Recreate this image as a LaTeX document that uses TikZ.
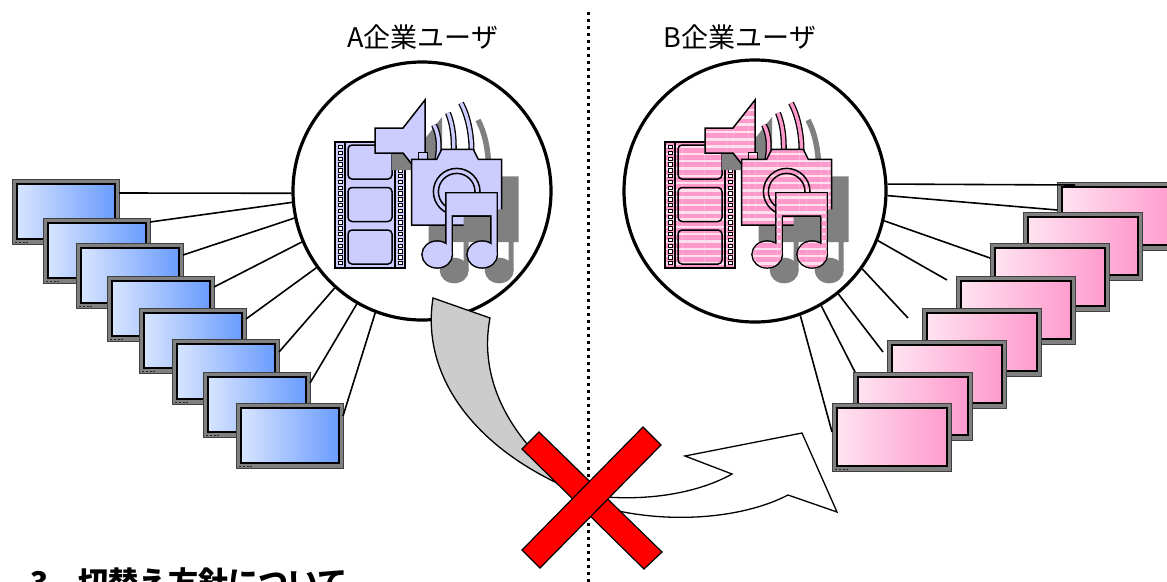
\documentclass[tikz,border=0pt]{standalone}
\usepackage{fontspec}
\newfontfamily\jp{Noto Sans CJK JP}
\usetikzlibrary{patterns.meta}

\definecolor{lav}{HTML}{CCCCFF}
\definecolor{pinkS}{HTML}{FF99CC}
\definecolor{pinkL}{HTML}{FFE0EF}
\definecolor{shadowgray}{HTML}{808080}
\definecolor{arrowgray}{HTML}{CCCCCC}
\definecolor{scrBlueL}{HTML}{DCE8FF}
\definecolor{scrBlueR}{HTML}{6699FF}
\definecolor{scrPinkL}{HTML}{FFE6F2}
\definecolor{scrPinkR}{HTML}{FF99CC}

\tikzset{
  monitor/.style n args={4}{rectangle, draw=black!75, line width=0.9pt, fill=black!50,
    minimum width=#3, minimum height=#4, inner sep=0pt, outer sep=0pt, anchor=north west,
    path picture={
      \shade[left color=#1, right color=#2, draw=black, line width=2pt]
        ([xshift=4.5pt,yshift=-4.5pt]path picture bounding box.north west)
        rectangle ([xshift=-4.5pt,yshift=5pt]path picture bounding box.south east);
      \foreach \bx in {3,7,11,14}
        \fill[black!85] ([xshift=\bx pt,yshift=1pt]path picture bounding box.south west)
          rectangle ++(2pt,1.3pt);
    }},
  wire/.style={line width=1.6pt, black},
  hub/.style={circle, draw=black, line width=3.2pt, fill=white, inner sep=0pt},
  tagtext/.style={font=\jp\fontsize{27}{32}\selectfont, inner sep=0pt},
  lavfill/.style={fill=lav},
  pinkfill/.style={preaction={fill=pinkL},
    pattern={Lines[angle=0,distance=7.3pt,line width=4.8pt]}, pattern color=pinkS},
  wavelav/.style={draw=black, line width=1.3pt, double=lav, double distance=3.4pt},
  wavepink/.style={draw=black, line width=1.3pt, double=pinkS, double distance=3.4pt},
}

% outlines of the icon parts
\def\spkpath{(375,128) -- (403,128) -- (425,100) -- (425,181) -- (403,153) -- (375,153) -- cycle}
\def\waveone{(434,125) .. controls (439,134) and (440,147) .. (437,162)}
\def\wavetwo{(448,113) .. controls (453,125) and (455,142) .. (453,162)}
\def\wavethree{(461,103) .. controls (469,118) and (473,140) .. (471,162)}
\def\campath{(411.7,225) -- (411.7,159.3) -- (436.7,159.3) -- (441.7,149.3) -- (473.3,149.3) -- (478.3,159.3) -- (501.7,159.3) -- (501.7,225) -- cycle}
\def\notebeam{(446.7,255) -- (446.7,193.3) -- (496.7,193.3) -- (496.7,255) -- (491.7,255) -- (491.7,215) -- (451.7,215) -- (451.7,255) -- cycle}
\def\noteheads{(437.2,254.5) ellipse [x radius=14.5pt, y radius=12.8pt] (482.2,254.5) ellipse [x radius=14.5pt, y radius=12.8pt]}

% film, speaker, camera and note; #1 = fill style, #2 = wave style
\newcommand\mediaicon[2]{%
  % film strip
  \draw[line width=1.5pt, #1] (335,142) rectangle (405,268);
  \foreach \sx in {335,395}{
    \draw[line width=1.2pt, #1] (\sx,142) rectangle ++(10,126);
    \foreach \k in {0,...,20}
      \draw[line width=0.7pt, fill=white] ({\sx+3},{145.3+5.8*\k}) rectangle ++(4,3.4);
  }
  \foreach \fy in {145,187.5,230}
    \draw[line width=1.5pt, rounded corners=4pt, #1] (348,\fy) rectangle ++(44,34);
  % speaker
  \fill[shadowgray, shift={(17,17)}] \spkpath;
  \draw[line width=1.5pt, #1] \spkpath;
  % sound waves
  \draw[shadowgray, line width=5.5pt, shift={(17,17)}] \wavethree;
  \draw[#2] \waveone;
  \draw[#2] \wavetwo;
  \draw[#2] \wavethree;
  % camera
  \fill[shadowgray, shift={(17,17)}] \campath;
  \draw[line width=1.5pt, #1] (418.3,152.7) rectangle (427.3,159.3);
  \draw[line width=1.5pt, #1] \campath;
  \draw[line width=1.5pt, #1] (456.7,191.7) circle [radius=23.3pt];
  \draw[line width=1.5pt, #1] (456.7,191.7) circle [radius=18.3pt];
  % music note
  \fill[shadowgray, shift={(17,16)}] \notebeam;
  \fill[shadowgray, shift={(17,16)}] \noteheads;
  \draw[line width=3pt, #1] \notebeam;
  \draw[line width=3pt, #1] \noteheads;
  \path[#1] \notebeam;
  \path[#1] \noteheads;
}

\begin{document}
\begin{tikzpicture}[x=1pt, y=-1pt]
  \path[use as bounding box] (0,0) rectangle (1167,581);

  % divider
  \coordinate (divtop) at (588,12);
  \coordinate (divbot) at (588,584);
  \draw[line width=3pt, dash pattern=on 3pt off 4pt] (divtop) -- (divbot);

  % monitors of company A
  \foreach \i/\mx/\my in {1/12/179, 2/43/218, 3/76/243, 4/107/276,
                          5/139/308, 6/172/339, 7/203/372, 8/236/403}
    \node[monitor={scrBlueL}{scrBlueR}{107pt}{65pt}] (L\i) at (\mx,\my) {};

  % monitors of company B
  \foreach \i/\mx/\my in {1/1057/182, 2/1023/212, 3/990/243, 4/956/276,
                          5/922/308, 6/887/340, 7/853/372, 8/832/403}
    \node[monitor={scrPinkL}{scrPinkR}{119pt}{68pt}] (R\i) at (\mx,\my) {};

  % hubs
  \node[hub, minimum size=258pt] (A) at (422,191) {};
  \node[hub, minimum size=262pt] (B) at (755,191) {};

  % wires
  \foreach \i/\dy/\ang in {1/14/181, 2/4/185, 3/12/192, 4/11/203,
                           5/11/216, 6/13/228, 7/11/240, 8/13/249}
    \draw[wire] ([yshift=-\dy pt]L\i.north east) -- (A.\ang);
  \foreach \i/\dx/\dy/\ang in {1/18/-3/3, 2/34/2/358, 3/0/-15/347, 4/-9/-4/338,
                               5/-14/-10/324, 6/-4/-12/309, 7/2/0/300, 8/0/-29/290}
    \draw[wire] (B.\ang) -- ([xshift=\dx pt,yshift=\dy pt]R\i.north west);

  % media icons
  \mediaicon{lavfill}{wavelav}
  \begin{scope}[shift={(330,0)}]
    \mediaicon{pinkfill}{wavepink}
  \end{scope}

  % labels
  \node[tagtext] (labA) at (423,37) {A企業ユーザ};
  \node[tagtext] (labB) at (740,37) {B企業ユーザ};

  % gray curved arrow leaving hub A
  \draw[line width=1.3pt, fill=arrowgray] (433,298) -- (490,318)
    .. controls (478,380) and (510,445) .. (585,495)
    .. controls (480,455) and (420,380) .. (433,298) -- cycle;

  % white curved arrow towards company B
  \draw[line width=1.3pt, fill=white] (595,496)
    .. controls (650,502) and (700,492) .. (732,474)
    -- (685,456) -- (802,433) -- (837,512) -- (788,495)
    .. controls (740,520) and (660,525) .. (595,505) -- cycle;

  % red cross
  \draw[line width=1.2pt, fill=red] (522,449) -- (539,432) -- (662,552) -- (644,569) -- cycle;
  \draw[line width=1.2pt, fill=red] (522,550) -- (643,427) -- (661,445) -- (540,568) -- cycle;

  % heading below
  \node[font=\jp\bfseries\fontsize{30}{36}\selectfont, anchor=base west, inner sep=0pt]
    (heading) at (30,593) {3．切替え方針について};
\end{tikzpicture}
\end{document}
